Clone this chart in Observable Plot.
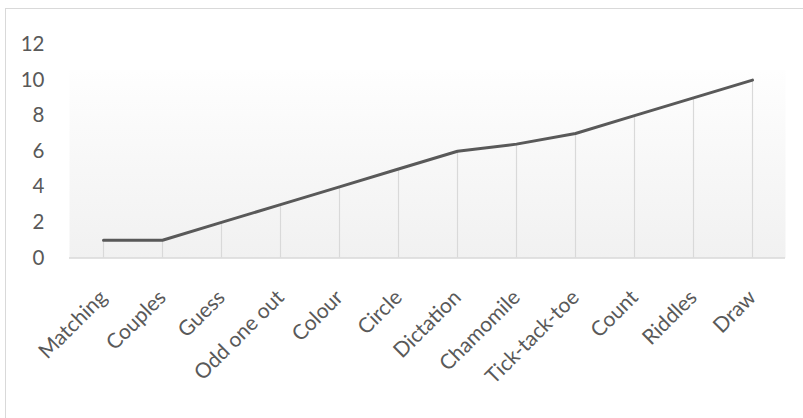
<!DOCTYPE html>
<html>
<head>
<meta charset="utf-8">
<script src="https://cdn.jsdelivr.net/npm/d3@7"></script>
<script src="https://cdn.jsdelivr.net/npm/@observablehq/plot@0.6"></script>
<style>
  html, body { margin: 0; padding: 0; background: #fff; }
  #wrap { position: relative; width: 803px; height: 418px; overflow: hidden; }
  #border { position: absolute; left: 5px; top: 8px; width: 820px; height: 430px; border: 1.5px solid #d9d9d9; box-sizing: border-box; pointer-events: none; }
  #wrap svg { position: absolute; left: 0; top: 0; }
</style>
</head>
<body>
<div id="wrap"><div id="border"></div></div>
<script>
const categories = ["Matching", "Couples", "Guess", "Odd one out", "Colour", "Circle", "Dictation", "Chamomile", "Tick-tack-toe", "Count", "Riddles", "Draw"];
const values = [1, 1, 2, 3, 4, 5, 6, 6.4, 7, 8, 9, 10];
const yTicks = [0, 2, 4, 6, 8, 10, 12];

const data = categories.map((c, i) => ({category: c, value: values[i]}));

const chart = Plot.plot({
  width: 803,
  height: 418,
  marginLeft: 69,
  marginRight: 18,
  marginTop: 44,
  marginBottom: 160.5,
  style: {fontFamily: "Lato, 'Open Sans', sans-serif", fontSize: "20px", color: "#595959", background: "transparent"},
  x: {type: "point", domain: categories, padding: 0.5, label: null},
  y: {domain: [0, 12], label: null},
  marks: [
    Plot.frame({fill: "url(#bg-grad)", stroke: "none"}),
    Plot.ruleX(data, {x: "category", y1: 0, y2: "value", stroke: "#d9d9d9", strokeWidth: 1.2}),
    Plot.ruleY([0], {stroke: "#d9d9d9", strokeWidth: 1.5}),
    Plot.line(data, {x: "category", y: "value", stroke: "#595959", strokeWidth: 3}),
    Plot.axisY({ticks: yTicks, tickSize: 0, tickPadding: 25, label: null, fontSize: 20.5, fill: "#595959"}),
    Plot.axisX({tickSize: 0, tickRotate: -45, tickPadding: 36, dx: 0, label: null, fontSize: 21, fill: "#595959"})
  ]
});

d3.select(chart).insert("defs", ":first-child").html(
  '<linearGradient id="bg-grad" x1="0" y1="0" x2="0" y2="1">' +
  '<stop offset="0" stop-color="#ffffff" stop-opacity="0"/>' +
  '<stop offset="0.118" stop-color="#ffffff" stop-opacity="0"/>' +
  '<stop offset="0.118" stop-color="#fefefe"/>' +
  '<stop offset="1" stop-color="#f1f1f1"/>' +
  '</linearGradient>'
);

document.getElementById("wrap").appendChild(chart);
</script>
</body>
</html>
